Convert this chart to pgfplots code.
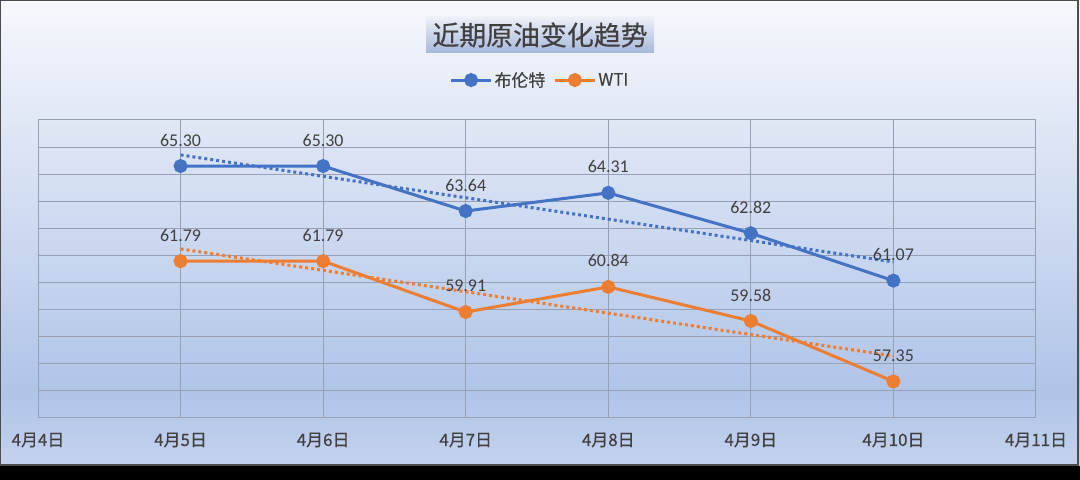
\documentclass[border=0pt]{standalone}
\usepackage{fontspec}
\setmainfont{Carlito}
\newfontfamily\cjk[FakeBold=0.4]{Noto Sans CJK SC}
\usepackage{pgfplots}
\pgfplotsset{compat=1.18}

\definecolor{brent}{RGB}{68,114,196}
\definecolor{wti}{RGB}{237,125,49}
\definecolor{txt}{RGB}{64,64,64}
\definecolor{gridc}{RGB}{150,160,180}
\definecolor{bgtop}{RGB}{246,248,252}
\definecolor{bgmid}{RGB}{176,196,232}
\definecolor{bgbot}{RGB}{196,210,237}
\definecolor{tt}{RGB}{236,240,248}
\definecolor{tb}{RGB}{166,184,218}
\pgfdeclareverticalshading{chartbg}{100bp}{color(0bp)=(bgbot); color(25bp)=(bgbot); color(33bp)=(bgmid); color(75bp)=(bgtop); color(100bp)=(bgtop)}
\pgfdeclareverticalshading{titlebg}{100bp}{color(0bp)=(tb); color(25bp)=(tb); color(75bp)=(tt); color(100bp)=(tt)}

\begin{document}
\begin{tikzpicture}[x=1bp,y=1bp]
\useasboundingbox (0,0) rectangle (1080,480);
\shade[shading=chartbg] (0,14) rectangle (1080,480);
\draw[black!70, line width=1.5bp] (0.75,14.75) rectangle (1078,479.25);
\fill[black] (0,0) rectangle (1080,14);

% title box
\shade[shading=titlebg] (426,427) rectangle (654,463);
\node[text=txt, font=\cjk\fontsize{27}{27}\selectfont] at (540,445) {近期原油变化趋势};

\coordinate (orig) at (38,62);
\begin{axis}[
  at={(orig)}, anchor=south west,
  width=998bp, height=298bp, scale only axis,
  xmin=4, xmax=11, ymin=56, ymax=67,
  xtick={4,5,6,7,8,9,10,11},
  xticklabels={4月4日,4月5日,4月6日,4月7日,4月8日,4月9日,4月10日,4月11日},
  ytick={56,57,...,67}, yticklabels={},
  grid=major, grid style={gridc, line width=1bp},
  axis line style={gridc, line width=1bp},
  major tick length=0,
  xticklabel style={anchor=center, yshift=-22bp, text=txt, font=\cjk\fontsize{17}{17}\selectfont},
  legend style={at={(0.503,1.134)}, anchor=center, draw=none, fill=none,
    legend columns=2, font=\cjk\fontsize{17}{17}\selectfont, text=txt,
    /tikz/every even column/.append style={column sep=6bp}},
  legend image code/.code={\draw[mark repeat=2,mark phase=2] plot coordinates {(0bp,0bp) (20bp,0bp) (40bp,0bp)};},
  every node near coord/.style={anchor=center, yshift=26bp, text=txt, font=\fontsize{18}{18}\selectfont},
  trend/.style={forget plot, line width=3bp, dash pattern=on 3bp off 3bp},
  series/.style={line width=3bp, mark=*, mark size=5.5bp, nodes near coords, point meta=explicit symbolic},
]
% trend lines (dotted)
\addplot[trend, brent] coordinates {(5,65.71) (10,61.76)};
\addplot[trend, wti] coordinates {(5,62.24) (10,58.29)};

\addplot[series, brent] coordinates {
  (5,65.30)[65.30]
  (6,65.30)[65.30]
  (7,63.64)[63.64]
  (8,64.31)[64.31]
  (9,62.82)[62.82]
  (10,61.07)[61.07]
};
\addlegendentry{布伦特}
\addplot[series, wti] coordinates {
  (5,61.79)[61.79]
  (6,61.79)[61.79]
  (7,59.91)[59.91]
  (8,60.84)[60.84]
  (9,59.58)[59.58]
  (10,57.35)[57.35]
};
\addlegendentry{WTI}
\end{axis}
\end{tikzpicture}
\end{document}
